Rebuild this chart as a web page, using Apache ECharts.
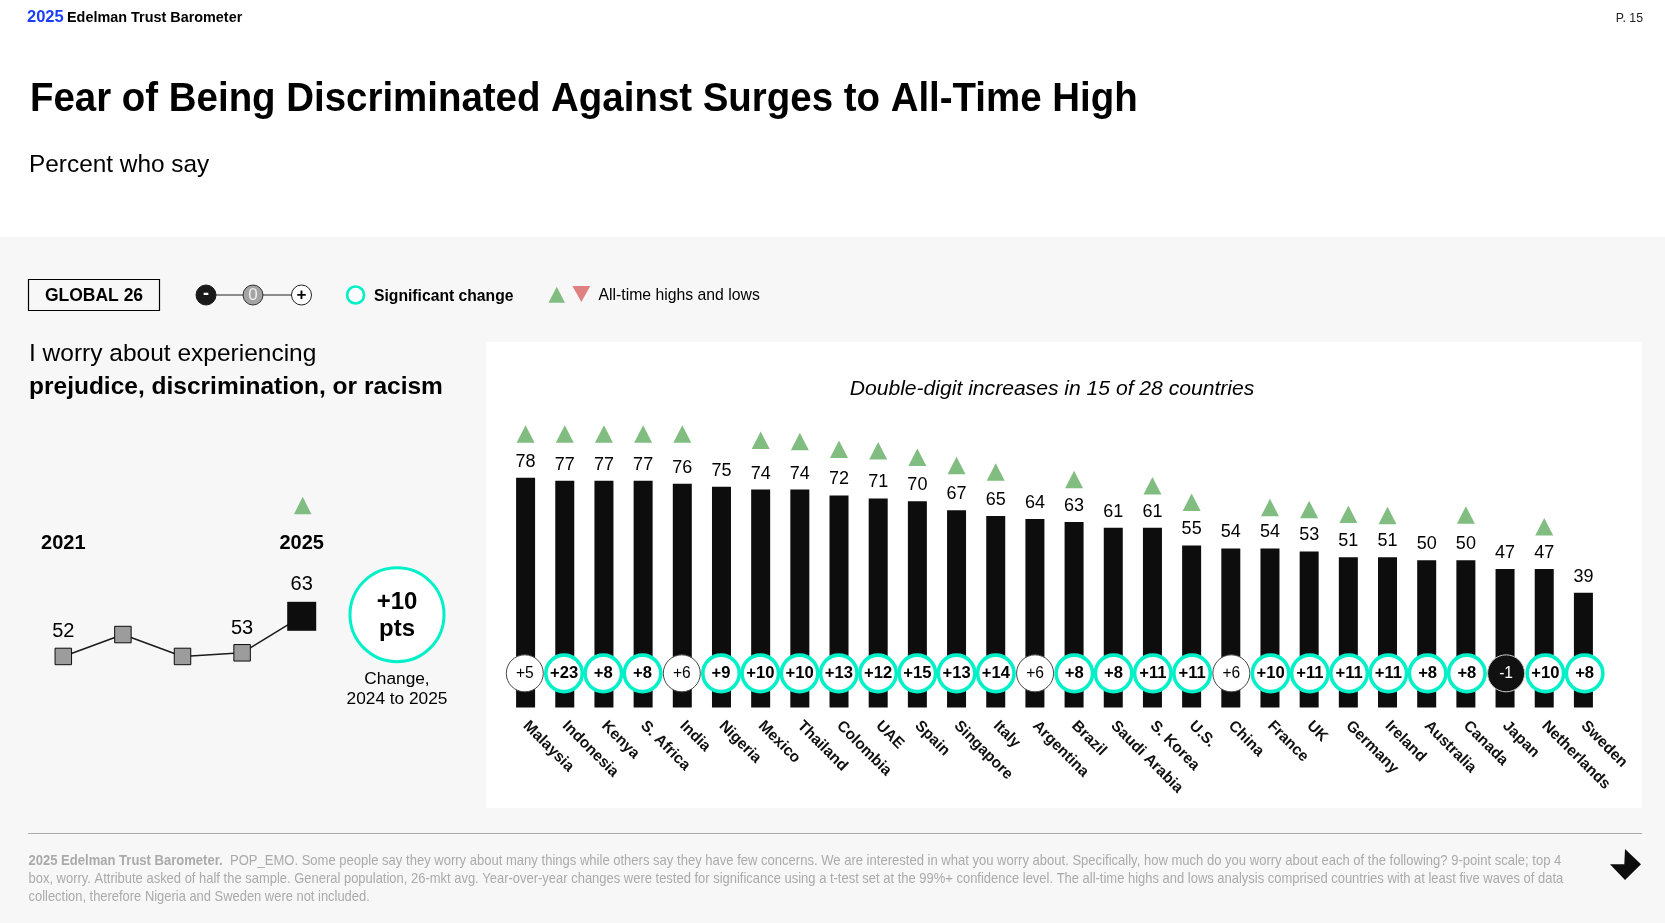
<!DOCTYPE html>
<html>
<head>
<meta charset="utf-8">
<title>Fear of Being Discriminated Against</title>
<script src="https://cdn.jsdelivr.net/npm/echarts@6/dist/echarts.min.js"></script>
<style>
  html, body { margin: 0; padding: 0; background: #fff; }
  #main { width: 1665px; height: 923px; }
</style>
</head>
<body>
<div id="main"></div>
<script>
const countries = ['Malaysia', 'Indonesia', 'Kenya', 'S. Africa', 'India', 'Nigeria', 'Mexico', 'Thailand', 'Colombia', 'UAE', 'Spain', 'Singapore', 'Italy', 'Argentina', 'Brazil', 'Saudi Arabia', 'S. Korea', 'U.S.', 'China', 'France', 'UK', 'Germany', 'Ireland', 'Australia', 'Canada', 'Japan', 'Netherlands', 'Sweden'];
const worryValues = [78, 77, 77, 77, 76, 75, 74, 74, 72, 71, 70, 67, 65, 64, 63, 61, 61, 55, 54, 54, 53, 51, 51, 50, 50, 47, 47, 39];
const changes = [5, 23, 8, 8, 6, 9, 10, 10, 13, 12, 15, 13, 14, 6, 8, 8, 11, 11, 6, 10, 11, 11, 11, 8, 8, -1, 10, 8];
const notSignificant = ['Malaysia', 'India', 'Argentina', 'China'];
const decreased = ['Japan'];
const noAllTimeHigh = ['Nigeria', 'Argentina', 'Saudi Arabia', 'China', 'Australia', 'Japan', 'Sweden'];

const trendYears = ['2021', '2022', '2023', '2024', '2025'];
const trendValues = [52, 58, 52, 53, 63];
const trendLabelled = ['2021', '2024', '2025'];

// px between the bar top and its triangle
const triangleGaps = [43.7, 46.7, 46.7, 46.7, 49.7, 0, 49.2, 48, 46.3, 47.7, 44.2, 44.8, 44, 0, 42.5, 0, 42, 43.3, 0, 41, 42, 43, 41.7, 0, 45.3, 0, 42.3, 0];

const FONT = '"Liberation Sans", Arial, sans-serif';
const BLACK = '#0d0d0d';
const TEAL = '#00f0c8';
const GREEN = '#81bd81';
const RED = '#e08080';
const CIRCLE_LEVEL = 11.6;

function sign(v) {
  return v > 0 ? '+' + v : String(v);
}

function text(x, y, str, size, opts) {
  opts = opts || {};
  return {
    type: 'text', x: x, y: y, scaleX: opts.scaleX || 1, z: 10,
    style: {
      text: str, fontFamily: FONT, fontSize: size,
      fontWeight: opts.bold ? 'bold' : 'normal',
      fontStyle: opts.italic ? 'italic' : 'normal',
      fill: opts.color || '#000',
      align: opts.align || 'left', verticalAlign: 'middle',
      lineHeight: opts.lineHeight, rich: opts.rich
    }
  };
}

function disc(x, y, r, fill, stroke, lw) {
  return { type: 'circle', z: 9, shape: { cx: x, cy: y, r: r }, style: { fill: fill, stroke: stroke, lineWidth: lw } };
}

function tri(x0, x1, yBase, yTip, fill) {
  return { type: 'polygon', z: 9, shape: { points: [[x0, yBase], [x1, yBase], [(x0 + x1) / 2, yTip]] }, style: { fill: fill } };
}

const footLines = [
  '{b|2025 Edelman Trust Barometer.}  POP_EMO. Some people say they worry about many things while others say they have few concerns. We are interested in what you worry about. Specifically, how much do you worry about each of the following? 9-point scale; top 4',
  'box, worry. Attribute asked of half the sample. General population, 26-mkt avg. Year-over-year changes were tested for significance using a t-test set at the 99%+ confidence level. The all-time highs and lows analysis comprised countries with at least five waves of data',
  'collection, therefore Nigeria and Sweden were not included.'
];
const footRich = { b: { fontFamily: FONT, fontSize: 14.1, fontWeight: 'bold', fill: '#aaa', color: '#aaa' } };

const graphics = [
  // panels
  { type: 'rect', z: 0, shape: { x: 0, y: 237, width: 1665, height: 686 }, style: { fill: '#f7f7f7' } },
  { type: 'rect', z: 0, shape: { x: 486, y: 342, width: 1156, height: 466 }, style: { fill: '#fff' } },
  // header
  text(27, 17.5, '2025', 16.5, { bold: true, color: '#1a3dff' }),
  text(67, 17.5, 'Edelman Trust Barometer', 15, { bold: true, scaleX: 0.96 }),
  text(1643, 19, 'P. 15', 12.3, { align: 'right', color: '#222' }),
  text(30, 100, 'Fear of Being Discriminated Against Surges to All-Time High', 40.5, { bold: true, scaleX: 0.949 }),
  text(29, 165, 'Percent who say', 24.4),
  // legend
  { type: 'rect', z: 9, shape: { x: 28.5, y: 279.5, width: 131, height: 31 }, style: { fill: 'none', stroke: '#000', lineWidth: 1.2 } },
  text(94, 296.5, 'GLOBAL 26', 17.5, { bold: true, align: 'center' }),
  { type: 'line', z: 8, shape: { x1: 206, y1: 295, x2: 301, y2: 295 }, style: { stroke: '#222', lineWidth: 1.2 } },
  disc(206, 295, 10, '#1a1a1a', '#1a1a1a', 1),
  text(206, 294.5, '-', 18, { bold: true, align: 'center', color: '#fff' }),
  disc(253, 295, 10, '#a3a3a3', '#333', 1),
  text(253, 295.5, '0', 17, { align: 'center', color: '#eee' }),
  disc(301.5, 295, 10, '#fff', '#222', 1),
  text(301.5, 295, '+', 17, { bold: true, align: 'center' }),
  disc(355.6, 295, 8.5, '#fff', TEAL, 2.6),
  text(374, 296.5, 'Significant change', 15.7, { bold: true }),
  tri(548.5, 565, 302.7, 286.7, GREEN),
  tri(572.4, 590.3, 286, 302, RED),
  text(598.5, 295.5, 'All-time highs and lows', 16.1, { scaleX: 0.98 }),
  // left block
  text(29, 354, 'I worry about experiencing', 24.5),
  text(29, 387, 'prejudice, discrimination, or racism', 24.5, { bold: true }),
  disc(397, 614.7, 47, '#fff', TEAL, 3),
  text(397, 602, sign(10), 24, { bold: true, align: 'center' }),
  text(397, 629, 'pts', 24, { bold: true, align: 'center' }),
  text(397, 679, 'Change,', 17.3, { align: 'center' }),
  text(397, 699.5, '2024 to 2025', 17.3, { align: 'center' }),
  // panel caption
  text(1052, 389, 'Double-digit increases in 15 of 28 countries', 21.1, { italic: true, align: 'center' }),
  // footer
  { type: 'line', z: 8, shape: { x1: 28, y1: 833.5, x2: 1642, y2: 833.5 }, style: { stroke: '#aaa', lineWidth: 1.2 } },
  text(28.5, 860.7, footLines[0], 14.1, { color: '#aaa', rich: footRich, scaleX: 0.925 }),
  text(28.5, 878.7, footLines[1], 14.1, { color: '#aaa', scaleX: 0.92 }),
  text(28.5, 897, footLines[2], 14.1, { color: '#aaa', scaleX: 0.917 }),
  { type: 'polygon', z: 9, shape: { points: [[1625, 849], [1641, 864.3], [1625, 880], [1610, 864.3], [1624.3, 864.3]] }, style: { fill: '#0d0d0d' } }
];

const option = {
  animation: false,
  textStyle: { fontFamily: FONT },
  graphic: { elements: graphics },
  grid: [
    { left: 506, width: 1097, top: 413, height: 294.5 },
    { left: 63.3, width: 238.4, top: 590.75, height: 109.5 }
  ],
  xAxis: [
    {
      type: 'category', gridIndex: 0, data: countries,
      axisLine: { show: false }, axisTick: { show: false },
      axisLabel: {
        interval: 0, rotate: -45, margin: 16,
        fontFamily: FONT, fontSize: 15.5, fontWeight: 'bold', color: '#111'
      }
    },
    {
      type: 'category', gridIndex: 1, data: trendYears, position: 'top', boundaryGap: false,
      axisLine: { show: false }, axisTick: { show: false },
      axisLabel: {
        interval: function (i) { return i === 0 || i === trendYears.length - 1; },
        margin: 37, fontFamily: FONT, fontSize: 20, fontWeight: 'bold', color: '#000'
      }
    }
  ],
  yAxis: [
    { type: 'value', gridIndex: 0, min: 0, max: 100, show: false },
    { type: 'value', gridIndex: 1, min: 40, max: 70, show: false }
  ],
  series: [
    {
      name: 'Worry', type: 'bar', xAxisIndex: 0, yAxisIndex: 0, data: worryValues, barWidth: 19,
      itemStyle: { color: BLACK },
      label: { show: true, position: 'top', distance: 7, fontFamily: FONT, fontSize: 18, color: '#000' },
      z: 2
    },
    {
      name: 'Change', type: 'scatter', xAxisIndex: 0, yAxisIndex: 0, z: 4,
      data: countries.map(function (c, i) {
        const sig = notSignificant.indexOf(c) < 0 && decreased.indexOf(c) < 0;
        const dark = decreased.indexOf(c) >= 0;
        const dx = -0.8 + i * 0.074; // circles run a touch wider than the bars
        return {
          value: [c, CIRCLE_LEVEL],
          symbolSize: sig ? 36.5 : 37,
          symbolOffset: [dx, 0],
          itemStyle: {
            opacity: 1,
            color: dark ? '#111' : '#fff',
            borderColor: sig ? TEAL : (dark ? '#ccc' : '#444'),
            borderWidth: sig ? 3.6 : 1
          },
          label: {
            show: true, position: 'inside', formatter: sign(changes[i]),
            fontFamily: FONT, fontSize: sig ? 16.6 : 15.6,
            fontWeight: sig ? 'bold' : 'normal',
            color: dark ? '#fff' : '#000'
          }
        };
      })
    },
    {
      name: 'All-time high', type: 'scatter', xAxisIndex: 0, yAxisIndex: 0, z: 3,
      data: countries.map(function (c, i) {
        if (noAllTimeHigh.indexOf(c) >= 0) return null;
        return { value: [c, worryValues[i]], symbolOffset: [0, -triangleGaps[i]] };
      }).filter(Boolean),
      symbol: 'triangle', symbolSize: [18, 17.5], clip: false,
      itemStyle: { color: GREEN, opacity: 1 }
    },
    {
      name: 'Trend', type: 'line', xAxisIndex: 1, yAxisIndex: 1,
      data: trendValues.map(function (v, i) {
        const last = i === trendValues.length - 1;
        return {
          value: v,
          symbol: 'rect',
          symbolSize: last ? 29 : 16.5,
          itemStyle: { color: last ? BLACK : '#9c9c9c', borderColor: BLACK, borderWidth: last ? 0 : 1 },
          label: {
            show: trendLabelled.indexOf(trendYears[i]) >= 0,
            position: 'top', distance: last ? 7 : 6,
            fontFamily: FONT, fontSize: 20, color: '#000'
          }
        };
      }),
      lineStyle: { color: '#1a1a1a', width: 1.5 },
      showSymbol: true, z: 3
    },
    {
      name: 'Trend high', type: 'scatter', xAxisIndex: 1, yAxisIndex: 1, clip: false,
      data: [[trendYears[trendYears.length - 1], trendValues[trendValues.length - 1]]],
      symbol: 'triangle', symbolSize: [17.5, 17.5], symbolOffset: [1, -110.7],
      itemStyle: { color: GREEN, opacity: 1 }, z: 3
    }
  ]
};

const chart = echarts.init(document.getElementById('main'), null, { renderer: 'canvas' });
chart.setOption(option);
</script>
</body>
</html>
